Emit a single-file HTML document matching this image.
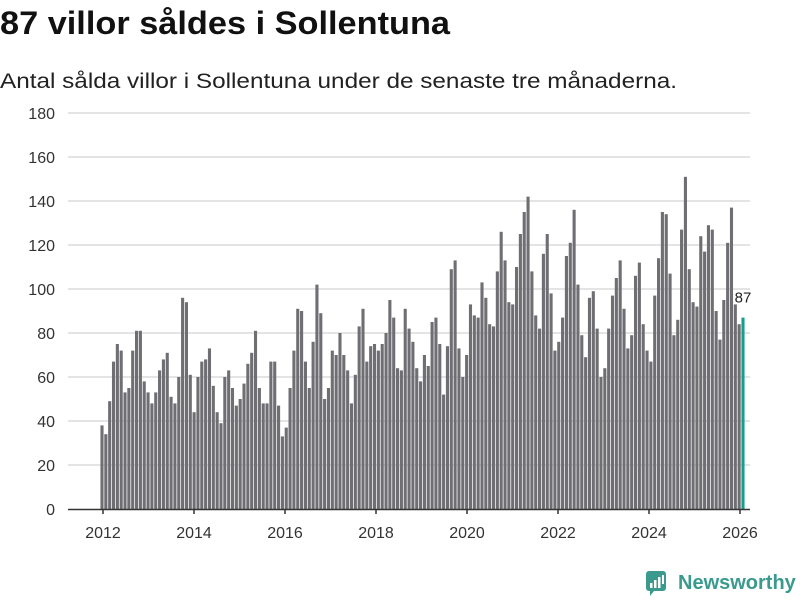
<!DOCTYPE html>
<html><head><meta charset="utf-8">
<style>
body{margin:0;background:#fff;width:800px;height:600px;overflow:hidden;font-family:"Liberation Sans",sans-serif;}
svg{position:absolute;left:0;top:0}
</style></head>
<body>
<svg id="chart" width="800" height="600">
<text x="0" y="34" font-size="32" font-weight="bold" fill="#111" textLength="450" lengthAdjust="spacingAndGlyphs">87 villor såldes i Sollentuna</text>
<text x="0" y="88" font-size="21" fill="#222" textLength="677" lengthAdjust="spacingAndGlyphs">Antal sålda villor i Sollentuna under de senaste tre månaderna.</text>
<g id="grid"></g><g id="bars"></g><g id="axes"></g>
<g>
<rect x="646" y="571" width="20" height="20" rx="3" fill="#3a9a8e"/>
<polygon points="650,591 654,591 650,596" fill="#3a9a8e"/>
<rect x="650" y="583" width="2.5" height="5" fill="#fff"/><rect x="654" y="580" width="2.5" height="8" fill="#fff"/><rect x="658" y="577" width="2.5" height="11" fill="#fff"/><rect x="662" y="575" width="2" height="9" fill="#fff"/>
<text x="678" y="589" font-size="20" font-weight="bold" fill="#3a9a8e">Newsworthy</text>
</g>
</svg>
<script>
const values = [
38,34,49,67,75,72,53,55,72,81,81,58,
53,48,53,63,68,71,51,48,60,96,94,61,
44,60,67,68,73,56,44,39,60,63,55,47,
50,57,66,71,81,55,48,48,67,67,47,33,
37,55,72,91,90,67,55,76,102,89,50,55,
72,70,80,70,63,48,61,83,91,67,74,75,
72,75,80,95,87,64,63,91,82,76,64,58,
70,65,85,87,75,52,74,109,113,73,60,70,
93,88,87,103,96,84,83,108,126,113,94,93,
110,125,135,142,108,88,82,116,125,98,72,76,
87,115,121,136,102,79,69,96,99,82,60,64,
82,97,105,113,91,73,79,106,112,84,72,67,
97,114,135,134,107,79,86,127,151,109,94,92,
124,117,129,127,90,77,95,121,137,93,84,
87];
const yTicks = [0,20,40,60,80,100,120,140,160,180];
const xTicks = [2012,2014,2016,2018,2020,2022,2024,2026];
const NS="http://www.w3.org/2000/svg";
function y(v){return 509 - v*2.2;}
function x(t){return 103 + (t-2012)*45.5;}
function band(i){return 102 + i*(743-102)/(values.length-1);}
const grid=document.getElementById('grid'), bars=document.getElementById('bars'), axes=document.getElementById('axes');
function mk(tag,attrs,parent){const e=document.createElementNS(NS,tag);for(const k in attrs)e.setAttribute(k,attrs[k]);parent.appendChild(e);return e;}
yTicks.forEach(t=>{
  if(t>0){const l=mk('line',{x1:68,x2:750,y1:y(t),y2:y(t),stroke:'#dcdcdc','stroke-width':1.5},grid);
  
  }
  const tx=mk('text',{x:55,y:y(t)+6,'font-size':16,fill:'#333','text-anchor':'end'},axes);
  tx.textContent=t;
  
  
});
const bw=3.1;
values.forEach((v,i)=>{
  const cx=band(i);
  const last=i===values.length-1;
  const r=mk('rect',{x:cx-bw/2,y:y(v),width:bw,height:509-y(v),fill:last?'#14a091':'#6f6e73'},bars);
  
  
  if(last){const lb=mk('text',{x:cx,y:y(v)-15,'font-size':15,fill:'#222','text-anchor':'middle'},bars);
    lb.textContent=v;
    
    }
});
const ax=mk('line',{x1:68,x2:750,y1:509.5,y2:509.5,stroke:'#333','stroke-width':1.5},axes);


xTicks.forEach(t=>{
  mk('line',{x1:x(t),x2:x(t),y1:509,y2:514,stroke:'#333','stroke-width':1.5},axes);
  const tx=mk('text',{x:x(t),y:538,'font-size':16,fill:'#333','text-anchor':'middle'},axes);
  tx.textContent=t;
  
  
});
</script>
</body></html>
